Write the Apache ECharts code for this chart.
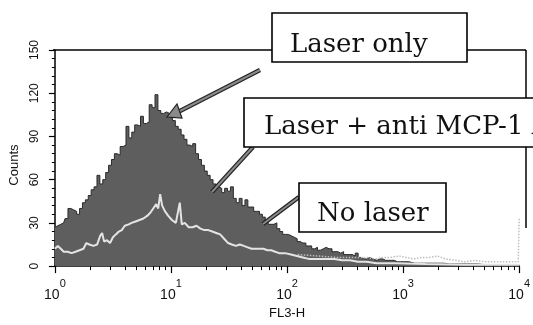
<!DOCTYPE html>
<html><head><meta charset="utf-8">
<script src="https://cdn.jsdelivr.net/npm/echarts@6/dist/echarts.min.js"></script>
<style>html,body{margin:0;padding:0;background:#fff}#c{width:533px;height:325px}</style>
</head><body><div id="c"></div><script>
// FL3-H positions are given in decades (log10 of FL3-H)
const xDecades = [0, 1, 2, 3, 4];
const yTicks = [0, 30, 60, 90, 120, 150];

const laserOnlyX = [0,0.025,0.05,0.075,0.1,0.125,0.15,0.175,0.2,0.225,0.25,0.275,0.3,0.325,0.35,0.375,0.4,0.425,0.45,0.475,0.5,0.525,0.55,0.575,0.6,0.625,0.65,0.675,0.7,0.725,0.75,0.775,0.8,0.825,0.85,0.875,0.9,0.925,0.95,0.975,1,1.025,1.05,1.075,1.1,1.125,1.15,1.175,1.2,1.225,1.25,1.275,1.3,1.325,1.35,1.375,1.4,1.425,1.45,1.475,1.5,1.525,1.55,1.575,1.6,1.625,1.65,1.675,1.7,1.725,1.75,1.775,1.8,1.825,1.85,1.875,1.9,1.925,1.95,1.975,2,2.025,2.05,2.075,2.1,2.125,2.15,2.175,2.2,2.225,2.25,2.275,2.3,2.325,2.35,2.375,2.4,2.425,2.45,2.475,2.5,2.525,2.55,2.575,2.6,2.625,2.65,2.675,2.7,2.725,2.75,2.8,2.85,2.9,2.95,3,3.1,3.2,3.3,3.4,3.5,3.6,3.7,3.8,3.9,4];
const laserOnlyY = [27,28,29,30,33,40,39,38,36,40,44,46,49,53,55,63,57,60,65,70,74,78,77,83,84,97,89,93,98,97,104,99,100,112,110,119,108,106,107,106,104,101,97,95,91,88,84,83,85,78,74,70,66,63,60,57,55,54,51,54,52,55,47,44,47,42,46,41,41,38,38,36,34,31,29,29,30,26,24,22,22,21,20,19,17,16,16,14,14,12,13,11,12,13,12,12,10,10,9,10,8,8,8,7,9,6,5,5,6,5,4,5,4,4,3,3,2,2,2,1.5,1.5,1.5,1,1,1,1];

const antiX = [0,0.025,0.051,0.076,0.11,0.144,0.178,0.212,0.246,0.271,0.297,0.331,0.364,0.39,0.407,0.424,0.449,0.475,0.5,0.525,0.551,0.576,0.602,0.636,0.661,0.695,0.729,0.763,0.797,0.822,0.847,0.873,0.89,0.907,0.924,0.949,0.975,1.008,1.042,1.076,1.093,1.119,1.153,1.186,1.22,1.254,1.288,1.322,1.356,1.39,1.424,1.458,1.492,1.525,1.559,1.593,1.627,1.661,1.695,1.729,1.763,1.797,1.831,1.864,1.898,1.932,1.983,2.034,2.085,2.136,2.186,2.237,2.288,2.347,2.407,2.475,2.542,2.61,2.686,2.771,2.941,3.195,3.534,4];
const antiY = [12,14,12,10,10,9,10,11,12,16,15,14,15,21,23,17,18,16,20,22,24,25,28,29,30,31,32,33,35,37,40,43,40,50,42,38,35,32,30,44,29,30,27,27,28,26,25,25,24,23,22,19,16,15,14,15,14,13,12,12,12,12,11,11,10,9,9,8,7,6,5,5,5,5,5,4,4,3,3,2,2,1.5,1,1];

const noLaserX = [2.093,2.263,2.432,2.559,2.627,2.686,2.754,2.822,2.89,2.966,3.025,3.093,3.161,3.229,3.297,3.364,3.449,3.534,3.619,3.703,3.788,3.873,3.941,3.992,4];
const noLaserY = [8,7,6,6,6,6,5,6,6,7,6,5,6,6,7,5,4,3,4,3,3,3,3,3,33];

const labelTexts = ['Laser only', 'Laser + anti MCP-1 Ab', 'No laser'];
const xName = 'FL3-H';
const yName = 'Counts';

const zip = (xs, ys) => xs.map((x, i) => [x, ys[i]]);
const minorTicks = [];
for (let d = 0; d < 4; d++) for (let k = 2; k <= 9; k++) minorTicks.push(d + Math.log10(k));

const sansN = "'Liberation Sans Narrow','Arial Narrow','Liberation Sans',sans-serif";
const serif = "'DejaVu Serif',serif";

const chart = echarts.init(document.getElementById('c'), null, {renderer: 'canvas'});
const G = {left: 53, top: 50, right: 526, bottom: 279};

function box(x, y, w, h) {
  return {type: 'rect', z: 100, shape: {x, y, width: w, height: h},
    style: {fill: '#fff', stroke: '#000', lineWidth: 1.6}};
}
function txt(s, x, y) {
  return {type: 'text', z: 101, style: {text: s, x, y, font: '26px ' + serif, fill: '#111',
    textAlign: 'left', textVerticalAlign: 'middle', align: 'left', verticalAlign: 'middle'}};
}
function arrowLine(x1, y1, x2, y2) {
  return [
    {type: 'line', z: 90, shape: {x1, y1, x2, y2}, style: {stroke: '#222', lineWidth: 4.5}},
    {type: 'line', z: 91, shape: {x1, y1, x2, y2}, style: {stroke: '#8a8a8a', lineWidth: 2}}
  ];
}

chart.setOption({
  animation: false,
  backgroundColor: '#fff',
  grid: {left: G.left, top: G.top, width: G.right - G.left, height: G.bottom - G.top, show: false},
  xAxis: [{
    type: 'value', min: 0, max: 4, interval: 1, position: 'bottom',
    name: xName, nameLocation: 'middle', nameGap: 29,
    nameTextStyle: {fontFamily: sansN, fontSize: 13, color: '#111'},
    axisLine: {show: true, onZero: false, lineStyle: {color: '#000', width: 1.5}},
    axisTick: {show: true, length: 7, lineStyle: {color: '#000', width: 1.2}},
    splitLine: {show: false},
    axisLabel: {
      margin: 12, color: '#111',
      formatter: v => '{b|10}{s|' + v + '}',
      rich: {
        b: {fontFamily: sansN, fontSize: 14, lineHeight: 24, verticalAlign: 'bottom', color: '#111'},
        s: {fontFamily: sansN, fontSize: 11, lineHeight: 10, verticalAlign: 'top', color: '#111'}
      }
    }
  }, {
    type: 'value', min: 0, max: 4, position: 'bottom',
    axisLine: {show: false}, axisLabel: {show: false}, splitLine: {show: false},
    axisTick: {show: true, length: 4, customValues: minorTicks, lineStyle: {color: '#000', width: 1}}
  }],
  yAxis: {
    type: 'value', min: 0, max: 150, interval: 30,
    name: yName, nameLocation: 'middle', nameGap: 33,
    nameTextStyle: {fontFamily: sansN, fontSize: 13, color: '#111', padding: [0, 14, 0, 0]},
    axisLine: {show: true, lineStyle: {color: '#000', width: 1.5}},
    axisTick: {show: true, length: 6, lineStyle: {color: '#000', width: 1.2}},
    minorTick: {show: true, splitNumber: 5, length: 3, lineStyle: {color: '#000', width: 1}},
    splitLine: {show: false},
    axisLabel: {rotate: 90, margin: 14, fontFamily: sansN, fontSize: 12, color: '#111',
      customValues: yTicks}
  },
  series: [{
    name: labelTexts[0], type: 'line', step: 'middle', symbol: 'none',
    data: zip(laserOnlyX, laserOnlyY),
    lineStyle: {color: '#2a2a2a', width: 1},
    areaStyle: {color: '#5e5e5e', opacity: 1},
    z: 2
  }, {
    name: labelTexts[2], type: 'line', symbol: 'none',
    data: zip(noLaserX, noLaserY),
    lineStyle: {color: '#bdbdbd', width: 1.5, type: 'dotted'},
    z: 3
  }, {
    name: labelTexts[1], type: 'line', symbol: 'none',
    data: zip(antiX, antiY),
    lineStyle: {color: '#e4e4e4', width: 2},
    z: 4
  }],
  graphic: [
    {type: 'line', z: 80, shape: {x1: G.left, y1: G.top, x2: G.right, y2: G.top}, style: {stroke: '#000', lineWidth: 1.5}},
    {type: 'line', z: 80, shape: {x1: G.right, y1: G.top, x2: G.right, y2: 228}, style: {stroke: '#000', lineWidth: 1.5}},
    ...arrowLine(260, 70, 178, 112),
    {type: 'polygon', z: 92, shape: {points: [[167, 117], [177, 104], [182, 118]]},
      style: {fill: '#8a8a8a', stroke: '#222', lineWidth: 1.2}},
    ...arrowLine(253, 147, 212, 192),
    ...arrowLine(299, 197, 263, 224),
    box(272, 13, 195, 49), txt(labelTexts[0], 290, 45),
    box(244, 98, 320, 49), txt(labelTexts[1], 264, 127),
    box(299, 183, 147, 49), txt(labelTexts[2], 317, 214)
  ]
});
</script></body></html>
